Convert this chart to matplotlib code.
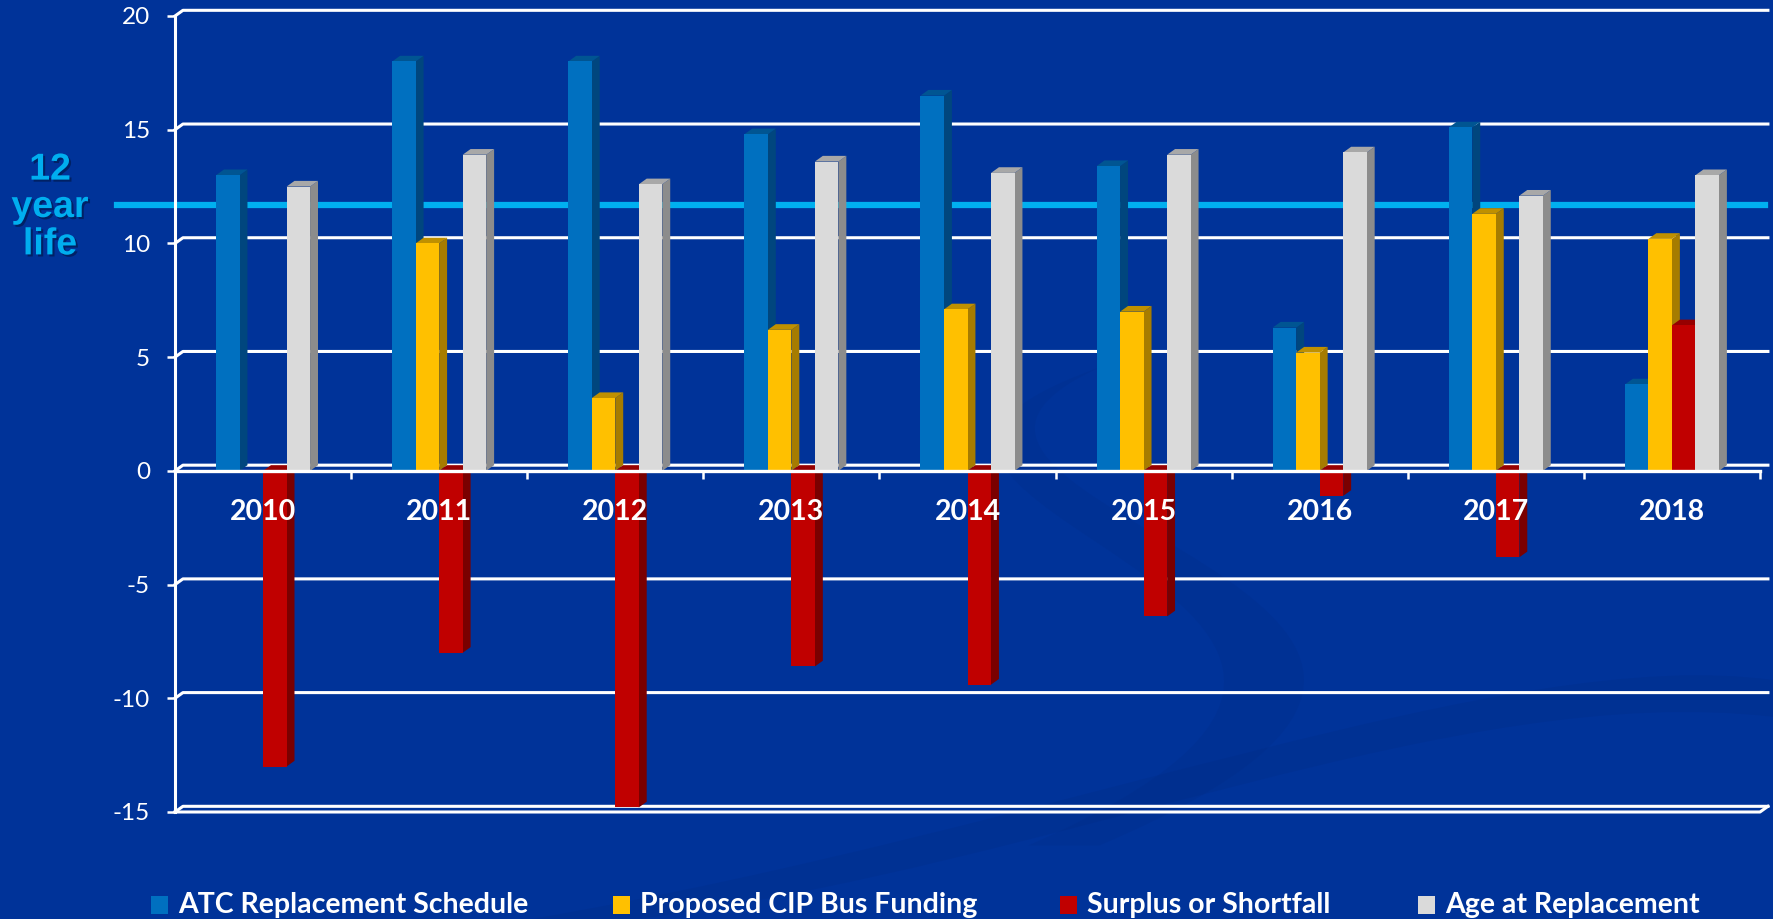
"""
ATC bus replacement schedule vs proposed CIP funding, 2010-2018
pseudo-3D column chart on a blue slide background
"""

import matplotlib.pyplot as plt
import matplotlib.patheffects as pe
from matplotlib.patches import Polygon, Rectangle, PathPatch
from matplotlib.path import Path
import numpy as np

# -----------------------------
# 1. Data
# -----------------------------
years = ["2010", "2011", "2012", "2013", "2014", "2015", "2016", "2017", "2018"]
atc_schedule = [13.0, 18.0, 18.0, 14.8, 16.5, 13.4, 6.3, 15.1, 3.8]
cip_funding = [0.0, 10.0, 3.2, 6.2, 7.1, 7.0, 5.2, 11.3, 10.2]
surplus = [-13.0, -8.0, -14.8, -8.6, -9.4, -6.4, -1.1, -3.8, 6.4]
age_at_replacement = [12.5, 13.9, 12.6, 13.6, 13.1, 13.9, 14.0, 12.1, 13.0]
series_names = ["ATC Replacement Schedule", "Proposed CIP Bus Funding",
                "Surplus or Shortfall", "Age at Replacement"]
life_line = 11.7
y_ticks = [-15, -10, -5, 0, 5, 10, 15, 20]

# front / side / top colours for each series
colors = [("#0070C0", "#00467E", "#005592"),
          ("#FFC000", "#A67C00", "#BF9000"),
          ("#C00000", "#7A0000", "#960000"),
          ("#DADADA", "#8C8C8C", "#A8A8A8")]
BG = "#003399"

# -----------------------------
# 2. Figure / axes
# -----------------------------
W, H = 1773, 919
fig = plt.figure(figsize=(W / 100, H / 100), dpi=100)
fig.patch.set_facecolor(BG)

# faint swooshes in the background (decoration only, behind the axes)
verts = [(0.30, 0.0), (0.60, 0.10), (0.85, 0.30), (1.0, 0.26),
         (1.0, 0.22), (0.82, 0.26), (0.60, 0.06), (0.36, 0.0), (0.30, 0.0)]
codes = [Path.MOVETO, Path.CURVE4, Path.CURVE4, Path.CURVE4,
         Path.LINETO, Path.CURVE4, Path.CURVE4, Path.CURVE4, Path.CLOSEPOLY]
fig.patches.append(PathPatch(Path(verts, codes), transform=fig.transFigure,
                             facecolor="#002a80", edgecolor="none", alpha=0.22,
                             zorder=-5))
verts2 = [(0.62, 0.60), (0.40, 0.45), (0.90, 0.35), (0.58, 0.08),
          (0.62, 0.08), (0.95, 0.35), (0.45, 0.45), (0.62, 0.60)]
codes2 = [Path.MOVETO, Path.CURVE4, Path.CURVE4, Path.CURVE4,
          Path.LINETO, Path.CURVE4, Path.CURVE4, Path.CURVE4]
fig.patches.append(PathPatch(Path(verts2, codes2), transform=fig.transFigure,
                             facecolor="#002a80", edgecolor="none", alpha=0.18,
                             zorder=-5))

ax = fig.add_axes([175 / W, 1 - 812 / H, 1585 / W, 796 / H])
ax.set_xlim(-0.5, len(years) - 0.5)
ax.set_ylim(-15, 20)
ax.set_facecolor("none")

# depth of the fake 3D effect, in data units
dx, dy = 0.045, 0.25
bw = 0.1335
x = np.arange(len(years))
x_left, x_right = -0.5, len(years) - 0.5

# back-wall gridlines with the little diagonal at the wall corner
for v in y_ticks:
    ax.plot([x_left, x_left + dx, x_right + dx], [v, v + dy, v + dy],
            color="white", lw=2.2, zorder=1, clip_on=False)
ax.plot([x_left, x_right, x_right + dx], [-15, -15, -15 + dy],
        color="white", lw=2.2, zorder=1, clip_on=False)

# 12 year life line
ax.plot([x_left - 0.33, x_right + 0.03], [life_line, life_line],
        color="#00B0F0", lw=4.5, zorder=1.5, clip_on=False)

# -----------------------------
# 3. Bars
# -----------------------------
all_series = [atc_schedule, cip_funding, surplus, age_at_replacement]
offsets = (np.arange(4) - 1.5) * bw
for k, vals in enumerate(all_series):
    front, side, top = colors[k]
    z = 2 + k * 0.1
    xs = x + offsets[k]
    ax.bar(xs, vals, width=bw, color=front, zorder=z + 0.02, linewidth=0)
    for xc, v in zip(xs, vals):
        if v == 0:
            continue
        r = xc + bw / 2
        l = xc - bw / 2
        ax.add_patch(Polygon([(r, 0), (r + dx, dy), (r + dx, v + dy), (r, v)],
                             closed=True, facecolor=side, edgecolor="none", zorder=z))
        t = max(v, 0)
        ax.add_patch(Polygon([(l, t), (l + dx, t + dy), (r + dx, t + dy), (r, t)],
                             closed=True, facecolor=top, edgecolor="none", zorder=z + 0.01))

# -----------------------------
# 4. Axes styling
# -----------------------------
for s in ["top", "right"]:
    ax.spines[s].set_visible(False)
ax.spines["left"].set_color("white")
ax.spines["left"].set_linewidth(2.2)
ax.spines["bottom"].set_position(("data", 0))
ax.spines["bottom"].set_color("white")
ax.spines["bottom"].set_linewidth(2.4)
ax.spines["bottom"].set_zorder(5)
ax.spines["left"].set_zorder(5)

ax.set_yticks(y_ticks)
ax.set_yticklabels([str(v) for v in y_ticks])
ax.tick_params(axis="y", colors="white", length=6, width=1.8, pad=12,
               labelsize=17.5)
for lab in ax.get_yticklabels():
    lab.set_family("Lato")
ax.set_xticks(np.arange(len(years) + 1) - 0.5)
ax.set_xticklabels([])
ax.tick_params(axis="x", colors="white", length=6, width=1.8, direction="out")

for xi, yr in zip(x, years):
    ax.text(xi, -1.8, yr, ha="center", va="center", color="white",
            fontsize=20.5, fontweight="bold", family="Lato", zorder=10)

# "12 year life" label
fig.text(50 / W, 1 - 207 / H, "12\nyear\nlife", ha="center", va="center",
         color="#00AEEF", fontsize=27, fontweight="bold", family="Liberation Sans",
         linespacing=1.05,
         path_effects=[pe.withSimplePatchShadow(offset=(1.5, -1.5),
                                                shadow_rgbFace="#001a50", alpha=0.7)])

# legend along the bottom: square + label, placed like the slide
legend_x = [151, 613, 1060, 1418]
for (front, _, _), name, lx in zip(colors, series_names, legend_x):
    fig.patches.append(Rectangle((lx / W, 1 - 914 / H), 17 / W, 18 / H,
                                 transform=fig.transFigure, facecolor=front,
                                 edgecolor="none"))
    fig.text((lx + 27) / W, 1 - 913 / H, name, ha="left", va="baseline",
             color="white", fontsize=20.5, fontweight="bold", family="Lato")

fig.savefig("out.png", dpi=100, facecolor=fig.get_facecolor())
plt.close(fig)
